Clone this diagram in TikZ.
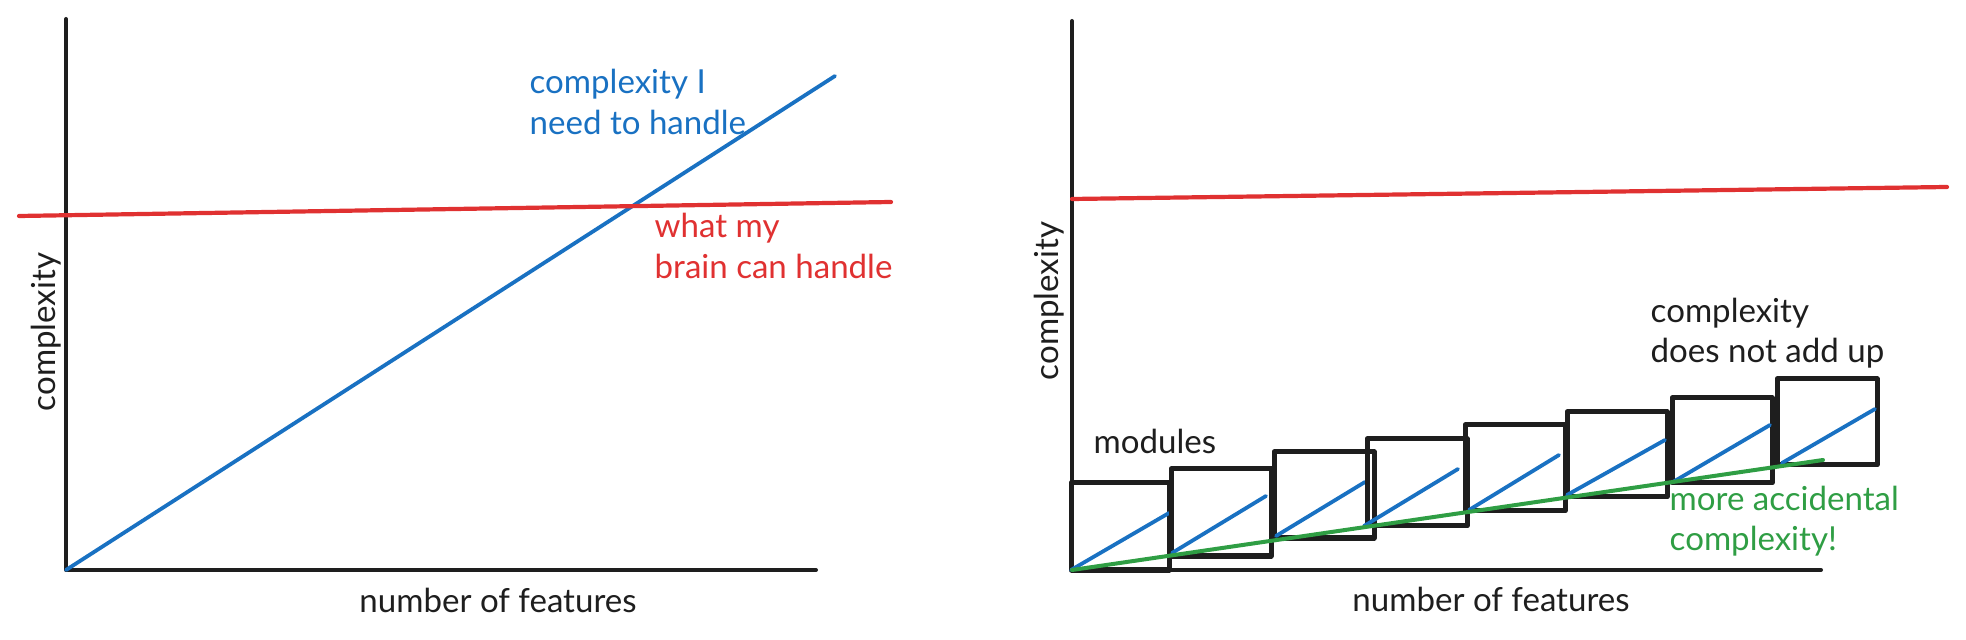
\documentclass[tikz,border=0pt]{standalone}
\usepackage{fontspec}
\setmainfont{Lato}
\definecolor{inkblack}{HTML}{1E1E1E}
\definecolor{inkblue}{HTML}{1971C2}
\definecolor{inkred}{HTML}{E03131}
\definecolor{inkgreen}{HTML}{2F9E44}

\begin{document}
\begin{tikzpicture}[x=0.01cm,y=-0.01cm,line cap=round,line join=round,
axis/.style={draw=inkblack,line width=0.04cm},
modbox/.style={draw=inkblack,line width=0.05cm},
need/.style={draw=inkblue,line width=0.038cm},
brain/.style={draw=inkred,line width=0.042cm},
extra/.style={draw=inkgreen,line width=0.04cm},
lbl/.style={inner sep=0pt,font=\fontsize{9.4pt}{11.4pt}\selectfont,align=left}]

\useasboundingbox (0,0) rectangle (1966,640);

% left chart
\coordinate (O1) at (66,570);
\coordinate (Y1) at (66,19);
\coordinate (X1) at (816,570);
\draw[axis] (Y1) -- (O1) -- (X1);
\coordinate (B1) at (835,76);
\draw[need] (O1) -- (B1);
\coordinate (RL1) at (19,216);
\coordinate (RR1) at (891,202);
\draw[brain] (RL1) -- (RR1);
\node[lbl,text=inkblue,anchor=west] (needtxt) at (529,102) {complexity I\\need to handle};
\node[lbl,text=inkred,anchor=west] (braintxt) at (654,246) {what my\\brain can handle};
\node[lbl,text=inkblack,rotate=90] (ylbl1) at (46,332) {complexity};
\node[lbl,text=inkblack] (xlbl1) at (498,600) {number of features};

% right chart
\coordinate (O2) at (1072,570);
\coordinate (Y2) at (1072,21);
\coordinate (X2) at (1821,570);
\draw[axis] (Y2) -- (O2) -- (X2);
\coordinate (RL2) at (1072,199);
\coordinate (RR2) at (1947,187);
\draw[brain] (RL2) -- (RR2);
\foreach \l/\t/\r/\b/\sx/\sy/\ex/\ey in {
  1071/483/1169/570/1071/570/1169/513,
  1171/469/1271/556/1172/553/1266/496,
  1274/452/1374/538/1276/536/1365/482,
  1367/439/1467/526/1364/526/1458/469,
  1465/425/1565/511/1469/510/1559/455,
  1567/412/1667/497/1567/495/1665/440,
  1672/398/1772/483/1673/482/1770/425,
  1777/379/1877/465/1782/463/1875/409}{
  \draw[modbox] (\l,\t) rectangle (\r,\b);
  \draw[need] (\sx,\sy) -- (\ex,\ey);
}
\coordinate (G2) at (1823,460);
\draw[extra] (O2) -- (G2);
\node[lbl,text=inkblack,anchor=west] (modtxt) at (1093,441) {modules};
\node[lbl,text=inkblack,anchor=west] (addtxt) at (1650,333) {complexity\\does not add up};
\node[lbl,text=inkgreen,anchor=west] (acctxt) at (1669,521) {more accidental\\complexity!};
\node[lbl,text=inkblack,rotate=90] (ylbl2) at (1049,301) {complexity};
\node[lbl,text=inkblack] (xlbl2) at (1491,599) {number of features};

\end{tikzpicture}
\end{document}
